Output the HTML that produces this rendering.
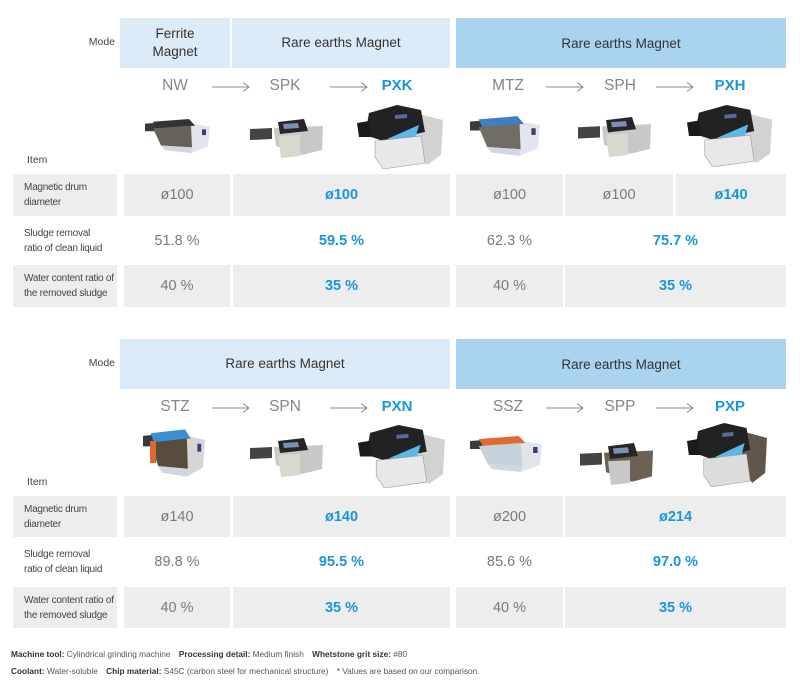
<!DOCTYPE html>
<html><head><meta charset="utf-8">
<style>
*{margin:0;padding:0;box-sizing:border-box}
body{width:800px;height:693px;background:#fff;position:relative;overflow:hidden;font-family:"Liberation Sans",Arial,sans-serif}
.sec{position:absolute;left:0;width:800px;height:320px}
.a{position:absolute}
.c{position:absolute;display:flex;align-items:center;justify-content:center;text-align:center}
.hl{background:#dcebf8;color:#333;font-size:13.5px;line-height:18px}
.hd{background:#aad3f0;color:#333;font-size:13.5px}
.g{background:#ededed}
.mode{position:absolute;left:0;width:115px;text-align:right;font-size:10.5px;color:#444;line-height:14px}
.item{position:absolute;left:27px;font-size:10.5px;color:#444;line-height:14px}
.mn{position:absolute;width:80px;text-align:center;font-size:15.5px;color:#858585;line-height:18px}
.mn.b{color:#1a96dc;font-weight:bold;font-size:15px}
.lab{position:absolute;left:13px;width:104px;padding-left:11px;display:flex;flex-direction:column;justify-content:center;font-size:10px;letter-spacing:-0.25px;color:#444;line-height:15px}
.v{font-size:14.5px;color:#7a7a7a}
.v.b{color:#1a96dc;font-weight:bold}
.arr{position:absolute;width:38px;height:10px}
.m{position:absolute}
.foot{position:absolute;left:11px;font-size:8.3px;color:#555;line-height:12px;white-space:nowrap}
.foot b{color:#333}
.foot span.gap{display:inline-block;width:6px}
</style></head><body>
<svg width="0" height="0" style="position:absolute">
<defs>
<symbol id="arrow" viewBox="0 0 38 10">
<line x1="0" y1="5" x2="37" y2="5" stroke="#8a8a8a" stroke-width="1"/>
<polyline points="31,0.5 37,5 31,9.5" fill="none" stroke="#8a8a8a" stroke-width="1"/>
</symbol>
<symbol id="drum" viewBox="0 0 65 38" preserveAspectRatio="none">
<polygon points="0,6 13,5 13,14 0,14" fill="#3a3a3a"/>
<polygon points="40,5 65,9 63,30 46,37 44,12" style="fill:var(--b)"/>
<polygon points="8,4 44,1 50,8 12,12" style="fill:var(--t)"/>
<polygon points="8,11 46,8 47,31 16,29" style="fill:var(--s)"/>
<polygon points="16,29 47,31 46,37 20,34" fill="#d0d6e2"/>
<rect x="57" y="12" width="4" height="6" fill="#3a3f70"/>
</symbol>
<symbol id="small" viewBox="0 0 73 39" preserveAspectRatio="none">
<polygon points="0,10 22,9 22,20 0,21" fill="#444"/>
<polygon points="24,9 73,7 72,31 52,36 26,27" style="fill:var(--b)"/>
<polygon points="28,3 54,0 58,12 30,15" fill="#262626"/>
<polygon points="33,5 48,4 49,9 34,10" fill="#7c8fb8"/>
<polygon points="28,17 50,16 50,37 31,39" style="fill:var(--c)"/>
</symbol>
<symbol id="large" viewBox="0 0 86 64" preserveAspectRatio="none">
<polygon points="58,8 86,15 84,50 70,60 60,45" style="fill:var(--b)"/>
<polygon points="12,8 40,0 64,5 68,27 26,36 8,30" fill="#222"/>
<polygon points="0,18 12,16 14,32 2,32" fill="#1a1a1a"/>
<polygon points="30,34 62,20 58,34" fill="#5ab8ea"/>
<polygon points="18,36 64,31 68,58 26,64 18,52" style="fill:var(--c)" stroke="#9a9a9a" stroke-width="0.6"/>
<polygon points="38,10 50,9 50,13 38,14" fill="#5a6aa0"/>
</symbol>
</defs>
</svg>

<!-- TOP SECTION -->
<div class="sec" style="top:0">
  <div class="mode" style="top:35px">Mode</div>
  <div class="c hl" style="left:120px;top:18px;width:110px;height:50px">Ferrite<br>Magnet</div>
  <div class="c hl" style="left:232px;top:18px;width:218px;height:50px">Rare earths Magnet</div>
  <div class="c hd" style="left:456px;top:18px;width:330px;height:50px">Rare earths Magnet</div>

  <div class="mn" style="left:135px;top:77px">NW</div>
  <svg class="arr" style="left:212px;top:82px"><use href="#arrow"/></svg>
  <div class="mn" style="left:245px;top:77px">SPK</div>
  <svg class="arr" style="left:330px;top:82px"><use href="#arrow"/></svg>
  <div class="mn b" style="left:357px;top:77px">PXK</div>

  <div class="mn" style="left:468px;top:77px">MTZ</div>
  <svg class="arr" style="left:546px;top:82px"><use href="#arrow"/></svg>
  <div class="mn" style="left:580px;top:77px">SPH</div>
  <svg class="arr" style="left:656px;top:82px"><use href="#arrow"/></svg>
  <div class="mn b" style="left:690px;top:77px">PXH</div>

  <svg class="m" style="left:145px;top:118px;width:65px;height:36px;--t:#333;--s:#66625a;--b:#e2e5ee"><use href="#drum" width="65" height="36"/></svg>
  <svg class="m" style="left:250px;top:119px;width:73px;height:39px;--b:#c8c8c8;--c:#d8d8ce"><use href="#small" width="73" height="39"/></svg>
  <svg class="m" style="left:357px;top:105px;width:86px;height:64px;--b:#d2d2d2;--c:#e8e8e8"><use href="#large" width="86" height="64"/></svg>
  <svg class="m" style="left:470px;top:115px;width:70px;height:42px;--t:#3d7fc0;--s:#706e64;--b:#e2e5ee"><use href="#drum" width="70" height="42"/></svg>
  <svg class="m" style="left:578px;top:117px;width:73px;height:40px;--b:#c8c8c8;--c:#d8d8ce"><use href="#small" width="73" height="40"/></svg>
  <svg class="m" style="left:687px;top:105px;width:85px;height:62px;--b:#d2d2d2;--c:#e8e8e8"><use href="#large" width="85" height="62"/></svg>

  <div class="item" style="top:153px">Item</div>

  <div class="lab g" style="top:174px;height:42px"><div>Magnetic drum</div><div>diameter</div></div>
  <div class="c g v" style="left:124px;top:174px;width:106px;height:42px">ø100</div>
  <div class="c g v b" style="left:233px;top:174px;width:217px;height:42px">ø100</div>
  <div class="c g v" style="left:456px;top:174px;width:107px;height:42px">ø100</div>
  <div class="c g v" style="left:565px;top:174px;width:108px;height:42px">ø100</div>
  <div class="c g v b" style="left:676px;top:174px;width:110px;height:42px">ø140</div>

  <div class="lab" style="top:218px;height:46px"><div>Sludge removal</div><div>ratio of clean liquid</div></div>
  <div class="c v" style="left:124px;top:218px;width:106px;height:46px">51.8 %</div>
  <div class="c v b" style="left:233px;top:218px;width:217px;height:46px">59.5 %</div>
  <div class="c v" style="left:456px;top:218px;width:107px;height:46px">62.3 %</div>
  <div class="c v b" style="left:565px;top:218px;width:221px;height:46px">75.7 %</div>

  <div class="lab g" style="top:265px;height:42px"><div>Water content ratio of</div><div>the removed sludge</div></div>
  <div class="c g v" style="left:124px;top:265px;width:106px;height:42px">40 %</div>
  <div class="c g v b" style="left:233px;top:265px;width:217px;height:42px">35 %</div>
  <div class="c g v" style="left:456px;top:265px;width:107px;height:42px">40 %</div>
  <div class="c g v b" style="left:565px;top:265px;width:221px;height:42px">35 %</div>
</div>

<!-- BOTTOM SECTION -->
<div class="sec" style="top:321px">
  <div class="mode" style="top:35px">Mode</div>
  <div class="c hl" style="left:120px;top:18px;width:330px;height:50px">Rare earths Magnet</div>
  <div class="c hd" style="left:456px;top:18px;width:330px;height:50px">Rare earths Magnet</div>

  <div class="mn" style="left:135px;top:77px">STZ</div>
  <svg class="arr" style="left:212px;top:82px"><use href="#arrow"/></svg>
  <div class="mn" style="left:245px;top:77px">SPN</div>
  <svg class="arr" style="left:330px;top:82px"><use href="#arrow"/></svg>
  <div class="mn b" style="left:357px;top:77px">PXN</div>

  <div class="mn" style="left:468px;top:77px">SSZ</div>
  <svg class="arr" style="left:546px;top:82px"><use href="#arrow"/></svg>
  <div class="mn" style="left:580px;top:77px">SPP</div>
  <svg class="arr" style="left:656px;top:82px"><use href="#arrow"/></svg>
  <div class="mn b" style="left:690px;top:77px">PXP</div>

  <svg class="m" style="left:143px;top:107px;width:62px;height:50px;--t:#3a8fd0;--s:#574d3d;--b:#d6d6d6"><use href="#drum" width="62" height="50"/></svg>
  <div class="a" style="left:150px;top:120px;width:6px;height:22px;background:#e0672e"></div>
  <svg class="m" style="left:250px;top:117px;width:73px;height:39px;--b:#c8c8c8;--c:#d8d8ce"><use href="#small" width="73" height="39"/></svg>
  <svg class="m" style="left:358px;top:104px;width:87px;height:63px;--b:#d2d2d2;--c:#e8e8e8"><use href="#large" width="87" height="63"/></svg>
  <svg class="m" style="left:470px;top:114px;width:72px;height:38px;--t:#e06a30;--s:#c6d2da;--b:#dfe6ea"><use href="#drum" width="72" height="38"/></svg>
  <svg class="m" style="left:580px;top:122px;width:73px;height:42px;--b:#6e6154;--c:#c8c8c8"><use href="#small" width="73" height="42"/></svg>
  <svg class="m" style="left:687px;top:102px;width:80px;height:64px;--b:#62564c;--c:#dcdcdc"><use href="#large" width="80" height="64"/></svg>

  <div class="item" style="top:154px">Item</div>

  <div class="lab g" style="top:175px;height:41px"><div>Magnetic drum</div><div>diameter</div></div>
  <div class="c g v" style="left:124px;top:175px;width:106px;height:41px">ø140</div>
  <div class="c g v b" style="left:233px;top:175px;width:217px;height:41px">ø140</div>
  <div class="c g v" style="left:456px;top:175px;width:107px;height:41px">ø200</div>
  <div class="c g v b" style="left:565px;top:175px;width:221px;height:41px">ø214</div>

  <div class="lab" style="top:218px;height:46px"><div>Sludge removal</div><div>ratio of clean liquid</div></div>
  <div class="c v" style="left:124px;top:218px;width:106px;height:46px">89.8 %</div>
  <div class="c v b" style="left:233px;top:218px;width:217px;height:46px">95.5 %</div>
  <div class="c v" style="left:456px;top:218px;width:107px;height:46px">85.6 %</div>
  <div class="c v b" style="left:565px;top:218px;width:221px;height:46px">97.0 %</div>

  <div class="lab g" style="top:266px;height:41px"><div>Water content ratio of</div><div>the removed sludge</div></div>
  <div class="c g v" style="left:124px;top:266px;width:106px;height:41px">40 %</div>
  <div class="c g v b" style="left:233px;top:266px;width:217px;height:41px">35 %</div>
  <div class="c g v" style="left:456px;top:266px;width:107px;height:41px">40 %</div>
  <div class="c g v b" style="left:565px;top:266px;width:221px;height:41px">35 %</div>
</div>

<div class="foot" style="top:648px"><b>Machine tool:</b> Cylindrical grinding machine<span class="gap"></span> <b>Processing detail:</b> Medium finish<span class="gap"></span> <b>Whetstone grit size:</b> #80</div>
<div class="foot" style="top:665px"><b>Coolant:</b> Water-soluble<span class="gap"></span> <b>Chip material:</b> S45C (carbon steel for mechanical structure)<span class="gap"></span> * Values are based on our comparison.</div>
</body></html>
